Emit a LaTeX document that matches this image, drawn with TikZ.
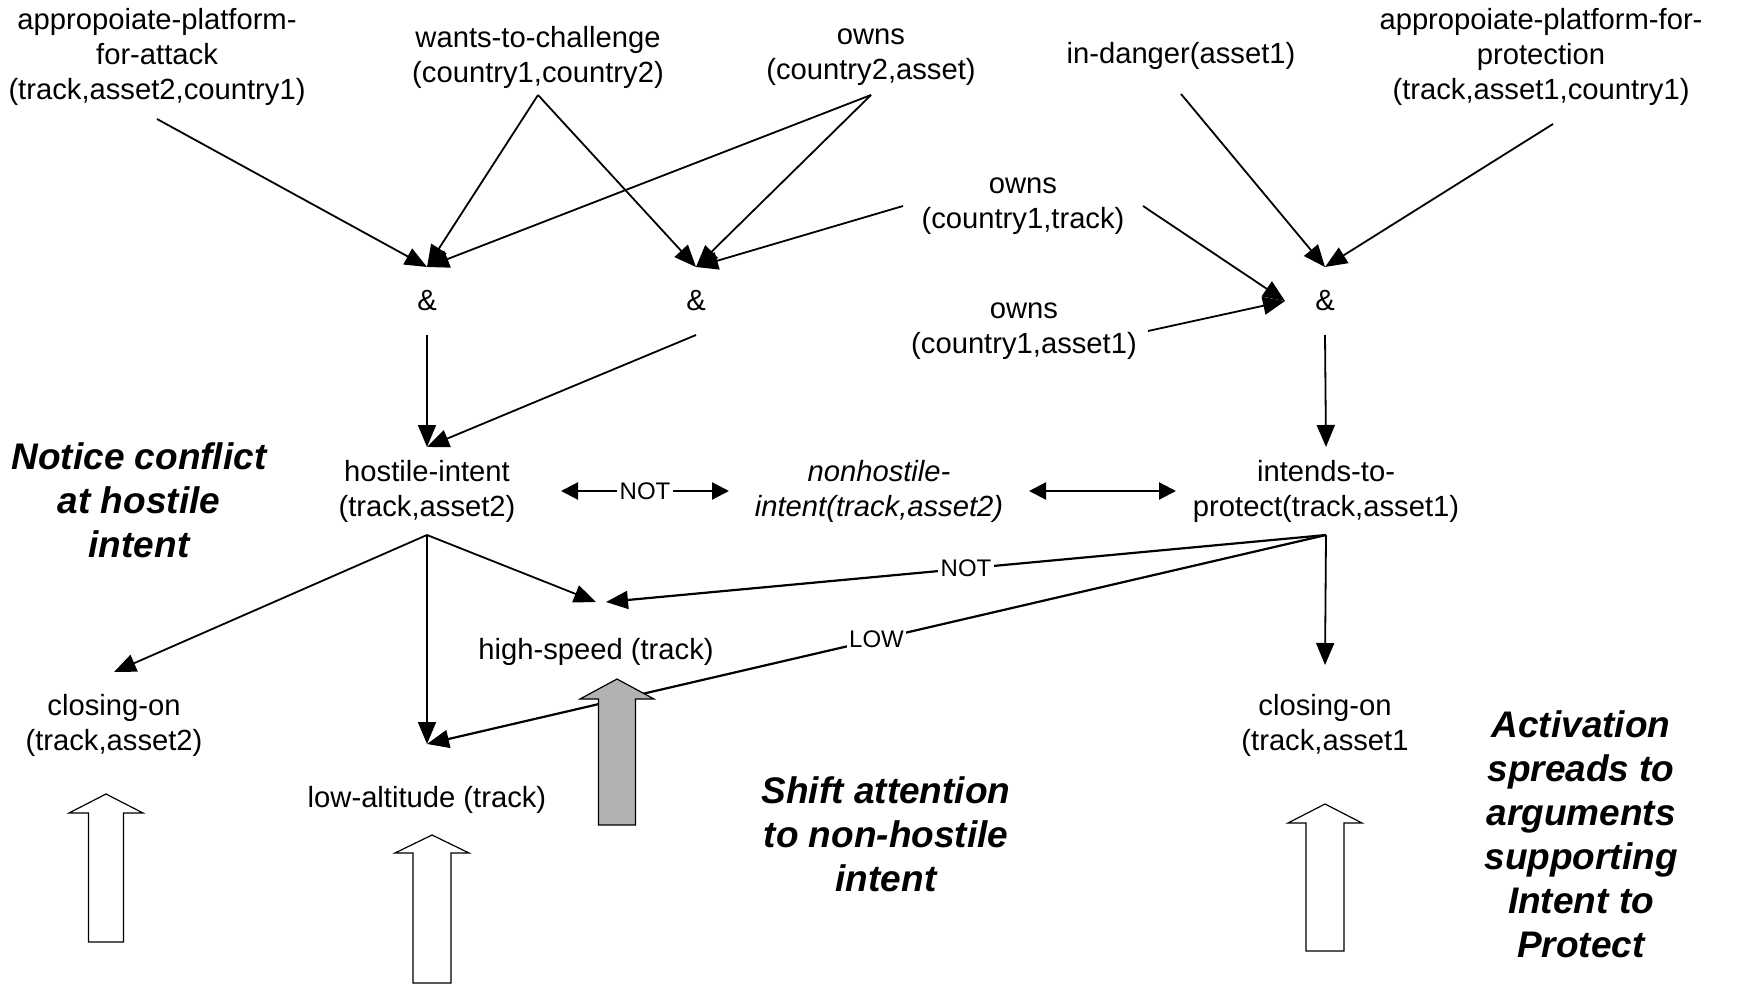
\documentclass[tikz,border=0pt]{standalone}
\usepackage{fontspec}
\setmainfont{Liberation Sans}
\usetikzlibrary{arrows.meta}
\newcommand{\BlkArrow}[7]{% cx, tip y, shoulder y, head half, shaft half, bottom y, fill
  \draw[line width=0.6pt, fill=#7] (#1,#2) -- ({#1+#4},#3) -- ({#1+#5},#3) -- ({#1+#5},#6)
    -- ({#1-#5},#6) -- ({#1-#5},#3) -- ({#1-#4},#3) -- cycle;}
\begin{document}
\begin{tikzpicture}[x=0.5pt,y=-0.5pt,
  every node/.style={inner sep=0pt, outer sep=0pt},
  lbl/.style={font=\fontsize{14.6}{17.5}\selectfont, align=center},
  big/.style={font=\fontsize{18.5}{22}\selectfont\bfseries\itshape, align=center},
  amp/.style={lbl, minimum width=40pt, minimum height=34pt},
  conn/.style={draw, line width=0.9pt, -{Triangle[length=11pt,width=9pt]}},
  dbl/.style={draw, line width=1.1pt, {Triangle[length=8.5pt,width=8.5pt]}-{Triangle[length=8.5pt,width=8.5pt]}},
  elbl/.style={font=\fontsize{12}{14}\selectfont, fill=white, inner sep=1.2pt}
]
\useasboundingbox (0,0) rectangle (1739,984);

% top row
\node[lbl, minimum height=62pt] (attack) at (157,57) {appropoiate-platform-\\for-attack\\(track,asset2,country1)};
\node[lbl, minimum height=38pt] (wants) at (538,57) {wants-to-challenge\\(country1,country2)};
\node[lbl, minimum height=38pt] (owns2) at (871,57) {owns\\(country2,asset)};
\node[lbl, minimum height=38pt] (indanger) at (1181,56) {in-danger(asset1)};
\node[lbl, minimum height=67pt] (prot) at (1541,57) {appropoiate-platform-for-\\protection\\(track,asset1,country1)};
\node[lbl, minimum width=120pt] (owns1t) at (1023,206) {owns\\(country1,track)};
\node[lbl, minimum width=124pt] (owns1a) at (1024,331) {owns\\(country1,asset1)};

% and nodes
\node[amp] (and1) at (427,301) {\&};
\node[amp] (and2) at (696,301) {\&};
\node[amp] (and3) at (1325,301) {\&};

% middle row
\node[lbl, minimum width=134pt, minimum height=44pt] (hostile) at (427,491) {hostile-intent\\(track,asset2)};
\node[lbl, minimum width=150pt, minimum height=44pt, font=\fontsize{14.6}{17.5}\selectfont\itshape] (nonhostile) at (879,491) {nonhostile-\\intent(track,asset2)};
\node[lbl, minimum width=150pt, minimum height=44pt] (intends) at (1326,491) {intends-to-\\protect(track,asset1)};

% lower row
\node[lbl, minimum height=50pt] (highspeed) at (596,652) {high-speed (track)};
\node[lbl, minimum height=56pt] (lowalt) at (427,800) {low-altitude (track)};
\node[lbl, minimum height=53pt] (closing2) at (114,725) {closing-on\\(track,asset2)};
\node[lbl, minimum height=60pt] (closing1) at (1325,725) {closing-on\\(track,asset1};

% big captions
\node[big] (notice) at (139,500) {Notice conflict\\at hostile\\intent};
\node[big] (shift) at (886,834) {Shift attention\\to non-hostile\\intent};
\node[big] (activation) at (1581,834) {Activation\\spreads to\\arguments\\supporting\\Intent to\\Protect};

% connectors into & nodes
\draw[conn] (attack.south) -- (and1.north);
\draw[conn] (wants.south) -- (and1.north);
\draw[conn] (wants.south) -- (and2.north);
\draw[conn] (owns2.south) -- (and1.north);
\draw[conn] (owns2.south) -- (and2.north);
\draw[conn] (owns1t.west) -- (and2.north);
\draw[conn] (owns1t.east) -- (and3.west);
\draw[conn] (owns1a.east) -- (and3.west);
\draw[conn] (indanger.south) -- (and3.north);
\draw[conn] ([xshift=6pt]prot.south) -- (and3.north);

% & to conclusions
\draw[conn] (and1.south) -- (hostile.north);
\draw[conn] (and2.south) -- (hostile.north);
\draw[conn] (and3.south) -- (intends.north);

% double arrows
\draw[dbl] (hostile.east) -- node[elbl] (notlbl1) {NOT} (nonhostile.west);
\draw[dbl] (nonhostile.east) -- (intends.west);

% from hostile-intent
\draw[conn] (hostile.south) -- (closing2.north);
\draw[conn] (hostile.south) -- (lowalt.north);
\draw[conn] (hostile.south) -- (highspeed.north);

% from intends-to-protect
\draw[conn, line width=1.1pt] (intends.south) -- node[elbl] (notlbl2) {NOT} ([xshift=5pt]highspeed.north);
\draw[conn, line width=1.1pt] (intends.south) -- node[elbl] (lowlbl) {LOW} (lowalt.north);
\draw[conn] (intends.south) -- (closing1.north);

% block arrows
\BlkArrow{106}{794}{813}{37}{17.5}{942}{white}
\BlkArrow{432}{835}{853}{37}{19}{983}{white}
\BlkArrow{617}{679}{699}{37}{18.5}{825}{black!30}
\BlkArrow{1325}{804}{823}{37}{19}{951}{white}
\end{tikzpicture}
\end{document}
